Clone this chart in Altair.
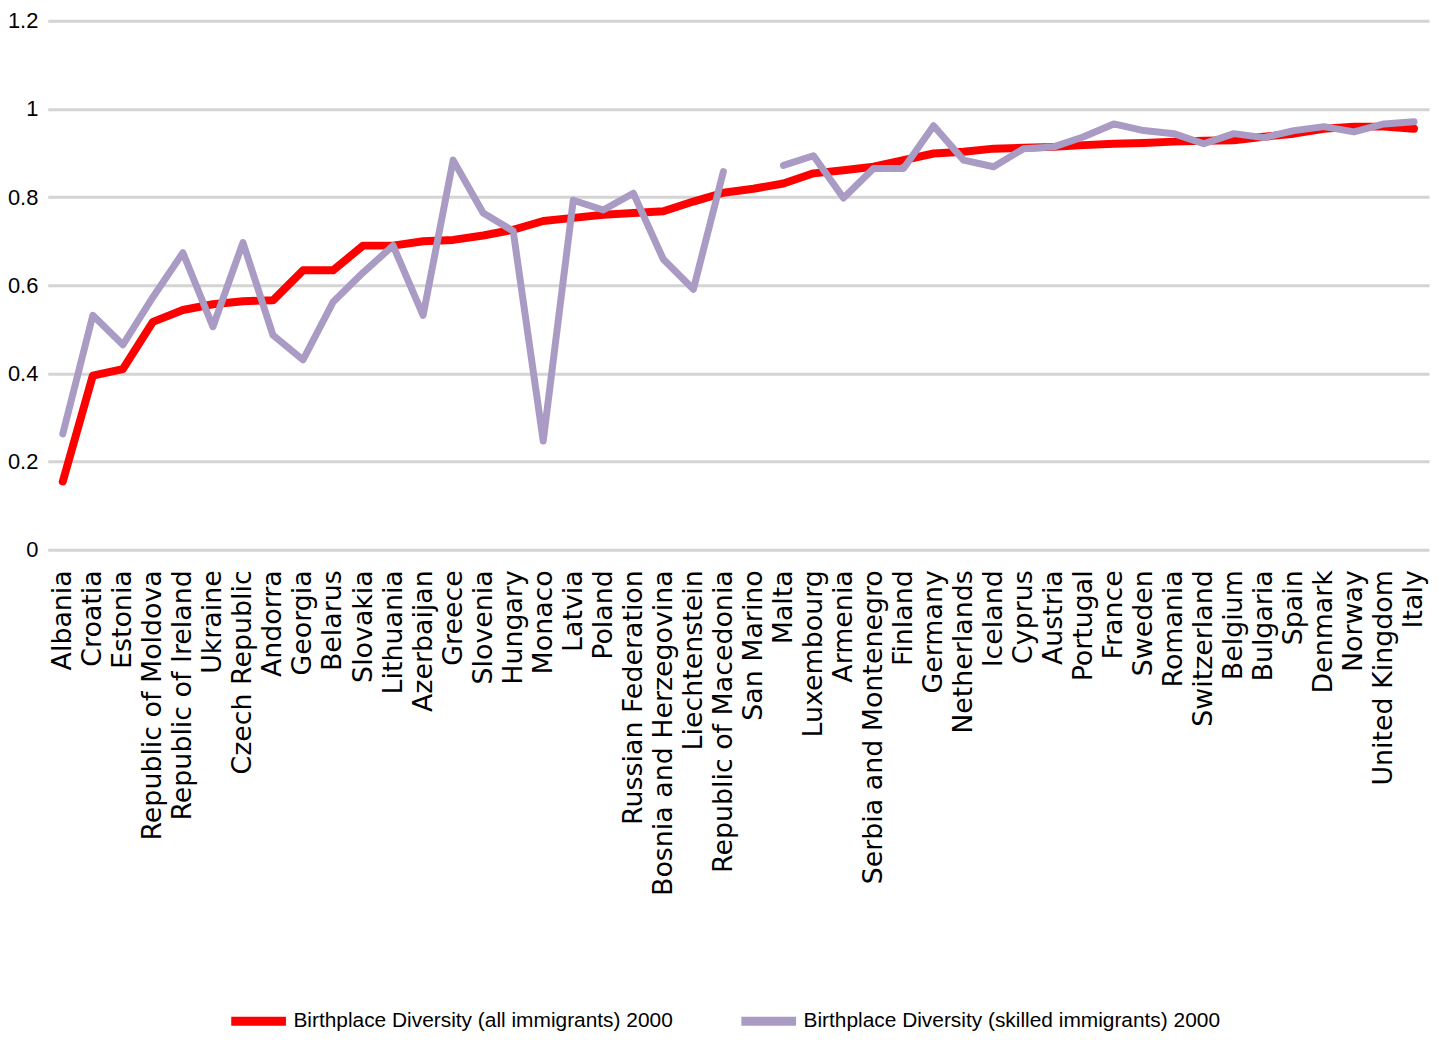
import altair as alt
import pandas as pd

countries = ["Albania", "Croatia", "Estonia", "Republic of Moldova", "Republic of Ireland",
             "Ukraine", "Czech Republic", "Andorra", "Georgia", "Belarus", "Slovakia",
             "Lithuania", "Azerbaijan", "Greece", "Slovenia", "Hungary", "Monaco", "Latvia",
             "Poland", "Russian Federation", "Bosnia and Herzegovina", "Liechtenstein",
             "Republic of Macedonia", "San Marino", "Malta", "Luxembourg", "Armenia",
             "Serbia and Montenegro", "Finland", "Germany", "Netherlands", "Iceland",
             "Cyprus", "Austria", "Portugal", "France", "Sweden", "Romania", "Switzerland",
             "Belgium", "Bulgaria", "Spain", "Denmark", "Norway", "United Kingdom", "Italy"]

all_immigrants = [0.155, 0.395, 0.41, 0.517, 0.544, 0.557, 0.564, 0.566, 0.634, 0.634,
                  0.69, 0.69, 0.70, 0.703, 0.713, 0.726, 0.746, 0.753, 0.76, 0.764,
                  0.768, 0.79, 0.81, 0.819, 0.831, 0.854, 0.861, 0.869, 0.884, 0.899,
                  0.903, 0.91, 0.912, 0.914, 0.918, 0.921, 0.923, 0.926, 0.928, 0.929,
                  0.937, 0.944, 0.955, 0.96, 0.96, 0.955]

skilled_immigrants = [0.263, 0.532, 0.465, 0.573, 0.674, 0.506, 0.697, 0.487, 0.431, 0.562,
                      0.629, 0.69, 0.532, 0.884, 0.764, 0.723, 0.247, 0.793, 0.771, 0.809,
                      0.659, 0.591, 0.858, None, 0.872, 0.894, 0.798, 0.865, 0.865, 0.962,
                      0.884, 0.869, 0.91, 0.914, 0.937, 0.966, 0.951, 0.944, 0.921, 0.944,
                      0.935, 0.951, 0.96, 0.948, 0.966, 0.971]

series_names = ["Birthplace Diversity (all immigrants) 2000",
                "Birthplace Diversity (skilled immigrants) 2000"]
series_colors = ["#FF0000", "#A99BC4"]

rows = []
for c, a, s in zip(countries, all_immigrants, skilled_immigrants):
    rows.append({"country": c, "series": series_names[0], "value": a})
    rows.append({"country": c, "series": series_names[1], "value": s})
df = pd.DataFrame(rows)

SANS = "Liberation Sans, Arial, sans-serif"

x_enc = alt.X("country:N", sort=countries, title=None,
              scale=alt.Scale(paddingOuter=0.5),
              axis=alt.Axis(labelAngle=270, labelAlign="right", labelBaseline="middle",
                            labelPadding=20, ticks=False, domain=False, grid=False,
                            labelFont="DejaVu Sans, sans-serif", labelFontSize=27,
                            labelColor="#000000", labelOverlap=False, labelLimit=0))
y_enc = alt.Y("value:Q", title=None,
              scale=alt.Scale(domain=[0, 1.2], nice=False, zero=True),
              axis=alt.Axis(values=[0, 0.2, 0.4, 0.6, 0.8, 1.0, 1.2], format="~g",
                            ticks=False, domain=False, grid=True, gridColor="#D4D4D4",
                            gridWidth=3, labelPadding=10, labelFont=SANS,
                            labelFontSize=22, labelColor="#000000"))
color_enc = alt.Color("series:N", title=None,
                      scale=alt.Scale(domain=series_names, range=series_colors),
                      legend=alt.Legend(orient="none", direction="horizontal",
                                        legendX=180, legendY=974, padding=0,
                                        symbolType="stroke", symbolSize=3025,
                                        symbolStrokeWidth=9, columnPadding=50,
                                        labelFont=SANS, labelFontSize=21,
                                        labelColor="#000000", labelLimit=0, labelOffset=3))

base = alt.Chart(df)
red = base.transform_filter(alt.datum.series == series_names[0]).mark_line(
    strokeWidth=8, strokeCap="round", strokeJoin="round").encode(x=x_enc, y=y_enc, color=color_enc)
purple = base.transform_filter(alt.datum.series == series_names[1]).mark_line(
    strokeWidth=7, strokeCap="round", strokeJoin="round",
    invalid="break-paths-show-domains").encode(x=x_enc, y=y_enc, color=color_enc)

chart = alt.layer(red, purple).properties(
    width=1389, height=532,
    autosize=alt.AutoSizeParams(type="none"),
    padding={"left": 40, "top": 10, "right": 3, "bottom": 484},
    background="#FFFFFF",
).configure_view(stroke=None)

chart.save("out.html", embed_options={"renderer": "svg", "actions": False})
